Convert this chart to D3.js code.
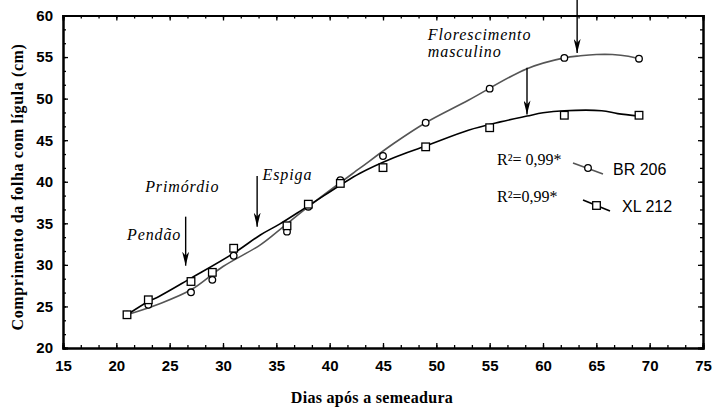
<!DOCTYPE html>
<html>
<head>
<meta charset="utf-8">
<script src="https://cdn.jsdelivr.net/npm/d3@7"></script>
<style>
  body { margin: 0; background: #fff; }
  svg { display: block; }
  .tick text { font-family: "Liberation Sans", Arial, sans-serif; font-weight: bold; font-size: 15px; fill: #000; }
  .serif { font-family: "Liberation Serif", "Times New Roman", Times, serif; }
  .sans { font-family: "Liberation Sans", Arial, Helvetica, sans-serif; }
</style>
</head>
<body>
<svg id="chart" width="714" height="410"></svg>
<script>
// --- Data
const days = [21, 23, 27, 29, 31, 36, 38, 41, 45, 49, 55, 62, 69];
const br206 = [24.0, 25.2, 26.7, 28.2, 31.1, 34.0, 37.0, 40.2, 43.1, 47.1, 51.2, 54.9, 54.8];
const xl212 = [24.0, 25.8, 28.0, 29.1, 32.0, 34.7, 37.3, 39.8, 41.7, 44.2, 46.5, 48.0, 48.0];

// fitted curves
const brFitDays = [21, 24, 27, 30, 33.5, 35.3, 38, 42.8, 46, 49, 53, 58.5, 62, 63.5, 65, 66.5, 68, 69];
const brFit = [24.0, 25.3, 27.0, 29.8, 32.4, 34.2, 37.0, 41.6, 44.6, 47.1, 49.8, 53.6, 54.9, 55.15, 55.3, 55.3, 55.1, 54.8];
const xlFitDays = [21, 23, 24, 27, 31, 33.5, 35.3, 38, 42.8, 46, 49, 53, 56, 58.5, 60, 62, 65.5, 67, 69];
const xlFit = [24.0, 25.6, 26.2, 28.4, 31.4, 33.6, 34.9, 37.1, 41.0, 42.9, 44.3, 46.2, 47.2, 47.9, 48.3, 48.55, 48.55, 48.2, 47.9];

// arrows: day, from value, to value
const arrows = [
  { day: 26.5, from: 35.8, to: 29.9 },
  { day: 33.2, from: 40.7, to: 34.6 },
  { day: 63.2, from: 61.9, to: 55.5 },
  { day: 58.5, from: 53.7, to: 48.1 }
];
const notes = [
  { text: "Pendão", day: 21.0, value: 33.0 },
  { text: "Primórdio", day: 22.7, value: 38.8 },
  { text: "Espiga", day: 33.7, value: 40.2 },
  { text: "Florescimento", day: 49.2, value: 57.1 },
  { text: "masculino", day: 49.2, value: 55.0 }
];
const xTicks = [15, 20, 25, 30, 35, 40, 45, 50, 55, 60, 65, 70, 75];
const yTicks = [20, 25, 30, 35, 40, 45, 50, 55, 60];

const svg = d3.select("#chart");
const x = d3.scaleLinear().domain([15, 75]).range([63, 703]);
const y = d3.scaleLinear().domain([20, 60]).range([348, 15.5]);

const xMinor = d3.range(15, 75.01, 5 / 3);
const yMinor = d3.range(20, 60.01, 5 / 3);

// --- Axes (ticks point inward on all four sides)
function frame(axis, pos, minor, labelled) {
  const g = svg.append("g").attr("transform", pos);
  g.call(axis.tickValues(minor).tickSize(-3).tickFormat(""));
  const g2 = svg.append("g").attr("transform", pos);
  g2.call(axis.tickValues(labelled.vals).tickSize(-5).tickPadding(labelled.pad).tickFormat(labelled.show ? d3.format("d") : ""));
  [g, g2].forEach(s => {
    s.selectAll("line").attr("stroke", "#000").attr("stroke-width", 1.3);
    s.select(".domain").attr("stroke", "#000").attr("stroke-width", 2);
  });
  return g2;
}
frame(d3.axisBottom(x), `translate(0,${y(20)})`, xMinor, { vals: xTicks, pad: 12, show: true });
frame(d3.axisTop(x), `translate(0,${y(60)})`, xMinor, { vals: xTicks, pad: 0, show: false });
frame(d3.axisLeft(y), `translate(${x(15)},0)`, yMinor, { vals: yTicks, pad: 10, show: true });
frame(d3.axisRight(y), `translate(${x(75)},0)`, yMinor, { vals: yTicks, pad: 0, show: false });

// --- Fitted lines
const line = d3.line().x(d => x(d[0])).y(d => y(d[1])).curve(d3.curveCatmullRom.alpha(0.5));
svg.append("path")
  .datum(brFitDays.map((d, i) => [d, brFit[i]]))
  .attr("d", line).attr("fill", "none").attr("stroke", "#555").attr("stroke-width", 1.6);
svg.append("path")
  .datum(xlFitDays.map((d, i) => [d, xlFit[i]]))
  .attr("d", line).attr("fill", "none").attr("stroke", "#000").attr("stroke-width", 1.6);

// --- Markers
svg.selectAll(".br").data(days).enter().append("circle")
  .attr("class", "br")
  .attr("cx", d => x(d)).attr("cy", (d, i) => y(br206[i]))
  .attr("r", 3.3).attr("fill", "#fff").attr("stroke", "#000").attr("stroke-width", 1.3);
svg.selectAll(".xl").data(days).enter().append("rect")
  .attr("class", "xl")
  .attr("x", d => x(d) - 3.8).attr("y", (d, i) => y(xl212[i]) - 3.8)
  .attr("width", 7.6).attr("height", 7.6)
  .attr("fill", "#fff").attr("stroke", "#000").attr("stroke-width", 1.3);

// --- Arrows
svg.append("defs").append("marker")
  .attr("id", "head").attr("viewBox", "0 0 14 7").attr("refX", 14).attr("refY", 3.5)
  .attr("markerWidth", 14).attr("markerHeight", 7).attr("markerUnits", "userSpaceOnUse")
  .attr("preserveAspectRatio", "none").attr("orient", "auto")
  .append("path").attr("d", "M0,0 L14,3.5 L0,7 L4,3.5 Z").attr("fill", "#000");
svg.selectAll(".arrow").data(arrows).enter().append("line")
  .attr("x1", d => x(d.day)).attr("x2", d => x(d.day))
  .attr("y1", d => y(d.from)).attr("y2", d => y(d.to))
  .attr("stroke", "#000").attr("stroke-width", 1.4)
  .attr("marker-end", "url(#head)");

// --- Annotations
svg.selectAll(".note").data(notes).enter().append("text")
  .attr("class", "serif")
  .attr("x", d => x(d.day)).attr("y", d => y(d.value))
  .style("font-style", "italic").style("font-size", "16px").style("letter-spacing", "0.9px")
  .text(d => d.text);

// --- Legend
const legend = [
  { r2: "R²= 0,99*", name: "BR 206", color: "#555", shape: "circle", y: 165, lx: [573, 603], nx: 613 },
  { r2: "R²=0,99*", name: "XL 212", color: "#000", shape: "rect", y: 202, lx: [583, 610], nx: 622 }
];
legend.forEach(l => {
  svg.append("text").attr("class", "serif").attr("x", 497).attr("y", l.y)
    .style("font-size", "16px")
    .text(l.r2);
  const mx = (l.lx[0] + l.lx[1]) / 2, my = l.y + 3;
  svg.append("line").attr("x1", l.lx[0]).attr("y1", my - 5).attr("x2", l.lx[1]).attr("y2", my + 6)
    .attr("stroke", l.color).attr("stroke-width", 1.6);
  if (l.shape === "circle") {
    svg.append("circle").attr("cx", mx).attr("cy", my).attr("r", 3.3)
      .attr("fill", "#fff").attr("stroke", "#000").attr("stroke-width", 1.3);
  } else {
    svg.append("rect").attr("x", mx - 3.8).attr("y", my - 3.3).attr("width", 7.6).attr("height", 7.6)
      .attr("fill", "#fff").attr("stroke", "#000").attr("stroke-width", 1.3);
  }
  svg.append("text").attr("class", "sans").attr("x", l.nx).attr("y", l.y + 10)
    .style("font-size", "16px")
    .text(l.name);
});

// --- Axis titles
svg.append("text").attr("class", "serif")
  .attr("transform", `translate(23,187) rotate(-90)`)
  .attr("text-anchor", "middle")
  .style("font-weight", "bold").style("font-size", "16px").style("letter-spacing", "0.6px")
  .text("Comprimento da folha com lígula (cm)");
svg.append("text").attr("class", "serif")
  .attr("x", 372).attr("y", 403)
  .attr("text-anchor", "middle")
  .style("font-weight", "bold").style("font-size", "16px").style("letter-spacing", "0.3px")
  .text("Dias após a semeadura");
</script>
</body>
</html>
